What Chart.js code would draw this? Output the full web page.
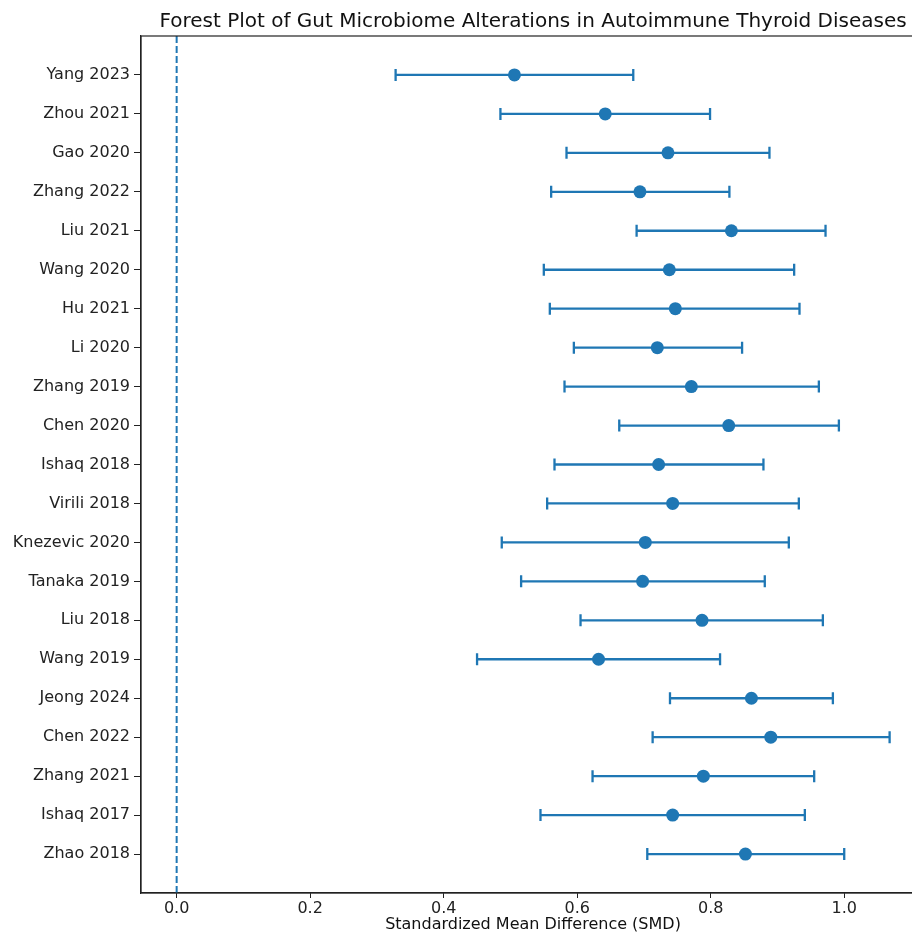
<!DOCTYPE html>
<html>
<head>
<meta charset="utf-8">
<script src="https://cdn.jsdelivr.net/npm/chart.js@4"></script>
<style>
  body { margin: 0; overflow: hidden; background: #fff; }
  #wrap { width: 936px; height: 934px; }
</style>
</head>
<body>
<div id="wrap"><canvas id="myChart" width="936" height="934"></canvas></div>
<script>
// studies top to bottom
const studies = ['Yang 2023', 'Zhou 2021', 'Gao 2020', 'Zhang 2022', 'Liu 2021', 'Wang 2020', 'Hu 2021',
  'Li 2020', 'Zhang 2019', 'Chen 2020', 'Ishaq 2018', 'Virili 2018', 'Knezevic 2020', 'Tanaka 2019',
  'Liu 2018', 'Wang 2019', 'Jeong 2024', 'Chen 2022', 'Zhang 2021', 'Ishaq 2017', 'Zhao 2018'];
const smd = [0.506, 0.642, 0.736, 0.694, 0.831, 0.738, 0.747, 0.720, 0.771, 0.827, 0.722,
  0.743, 0.702, 0.698, 0.787, 0.632, 0.861, 0.890, 0.789, 0.743, 0.852];
const ciLow = [0.328, 0.485, 0.584, 0.561, 0.689, 0.550, 0.559, 0.595, 0.581, 0.663, 0.566,
  0.555, 0.487, 0.516, 0.605, 0.450, 0.739, 0.713, 0.623, 0.545, 0.705];
const ciHigh = [0.684, 0.799, 0.888, 0.828, 0.972, 0.925, 0.933, 0.847, 0.962, 0.992, 0.879,
  0.932, 0.917, 0.881, 0.968, 0.814, 0.983, 1.068, 0.955, 0.941, 1.000];
const xTicks = [0.0, 0.2, 0.4, 0.6, 0.8, 1.0];

const blue = '#1f77b4';
const fontFam = '"DejaVu Sans", sans-serif';

// error bars + zero line + box
const forestPlugin = {
  id: 'forest',
  beforeDatasetsDraw(chart) {
    const ctx = chart.ctx;
    const xs = chart.scales.x, ys = chart.scales.y;
    const area = chart.chartArea;
    ctx.save();
    // dashed line at 0
    ctx.strokeStyle = blue;
    ctx.lineWidth = 2;
    ctx.setLineDash([7, 3]);
    let x0 = xs.getPixelForValue(0);
    ctx.beginPath();
    ctx.moveTo(x0, area.top);
    ctx.lineTo(x0, area.bottom);
    ctx.stroke();
    ctx.setLineDash([]);
    // whiskers
    ctx.lineWidth = 2.3;
    for (let i = 0; i < studies.length; i++) {
      let y = ys.getPixelForValue(i);
      let a = xs.getPixelForValue(ciLow[i]);
      let b = xs.getPixelForValue(ciHigh[i]);
      ctx.beginPath();
      ctx.moveTo(a, y); ctx.lineTo(b, y);
      ctx.moveTo(a, y - 6); ctx.lineTo(a, y + 6);
      ctx.moveTo(b, y - 6); ctx.lineTo(b, y + 6);
      ctx.stroke();
    }
    ctx.restore();
  },
  afterDraw(chart) {
    const ctx = chart.ctx;
    const area = chart.chartArea;
    ctx.save();
    ctx.strokeStyle = '#222';
    ctx.lineWidth = 1.2;
    ctx.strokeRect(area.left, area.top, area.right - area.left, area.bottom - area.top);
    ctx.restore();
  }
};

const pts = smd.map(function (v, i) { return { x: v, y: i }; });

new Chart(document.getElementById('myChart'), {
  type: 'scatter',
  data: {
    datasets: [{
      data: pts,
      backgroundColor: blue,
      borderWidth: 0,
      pointRadius: 6.5,
      pointHoverRadius: 6.5
    }]
  },
  options: {
    responsive: false,
    animation: false,
    devicePixelRatio: 1,
    layout: { padding: { left: 0, right: 11, top: 0, bottom: 0 } },
    plugins: {
      legend: { display: false },
      tooltip: { enabled: false },
      title: {
        display: true,
        fullSize: false,
        text: 'Forest Plot of Gut Microbiome Alterations in Autoimmune Thyroid Diseases',
        color: '#111',
        font: { family: fontFam, size: 20, weight: 'normal' },
        padding: { top: 10, bottom: 2 }
      }
    },
    scales: {
      x: {
        type: 'linear',
        min: -0.0534,
        max: 1.121,
        afterBuildTicks: function (s) { s.ticks = xTicks.map(function (v) { return { value: v }; }); },
        afterFit: function (s) { s.height = 41; },
        ticks: {
          color: '#222',
          font: { family: fontFam, size: 16 },
          padding: 1,
          callback: function (v) { return Number(v).toFixed(1); }
        },
        grid: { drawOnChartArea: false, drawTicks: true, tickLength: 5, color: '#222' },
        border: { display: true, color: '#222', width: 1.2 },
        title: {
          display: true,
          text: 'Standardized Mean Difference (SMD)',
          color: '#111',
          font: { family: fontFam, size: 16 },
          padding: { top: 0, bottom: 0 }
        }
      },
      y: {
        type: 'linear',
        reverse: true,
        min: -1,
        max: 21,
        afterBuildTicks: function (s) { s.ticks = studies.map(function (n, i) { return { value: i }; }); },
        afterFit: function (s) { s.width = 141; },
        ticks: {
          color: '#222',
          font: { family: fontFam, size: 16 },
          padding: 4,
          callback: function (v) { return studies[v]; }
        },
        grid: { drawOnChartArea: false, drawTicks: true, tickLength: 7, color: '#222' },
        border: { display: true, color: '#222', width: 1.2 }
      }
    }
  },
  plugins: [forestPlugin]
});
</script>
</body>
</html>
